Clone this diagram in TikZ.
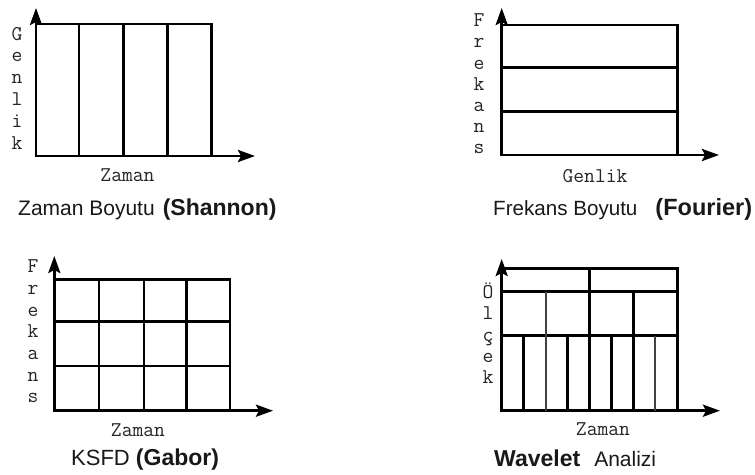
\documentclass[tikz,border=0pt]{standalone}
\usepackage{fontspec}
\setmainfont{Liberation Sans}
\usetikzlibrary{arrows.meta}
\tikzset{
  gridline/.style={line width=2.8pt, line cap=rect},
  thinline/.style={line width=1.6pt, draw=black!75},
  axisline/.style={line width=2.8pt, -{Stealth[length=17pt,width=12pt,inset=3pt]}},
  axlab/.style={font=\ttfamily\fontsize{21}{21}\selectfont, inner sep=0pt, anchor=base, text=black!85},
  capt/.style={font=\fontsize{21}{21}\selectfont, inner sep=0pt, anchor=base west, text=black!90},
}
\begin{document}
\begin{tikzpicture}[x=1pt,y=-1pt]
\useasboundingbox (0,0) rectangle (755,474);
\fill[white] (0,0) rectangle (755,474);

% ---------- Panel 1: Shannon ----------
\coordinate (o1) at (36,156);
\coordinate (y1) at (36,8);
\coordinate (x1) at (255,156);
\draw[axisline] (o1) -- (y1);
\draw[axisline] (o1) -- (x1);
\draw[gridline] (36,24) rectangle (211.7,156);
\foreach \x in {79,123.3,167.7} \draw[gridline] (\x,24) -- (\x,156);
\foreach \c [count=\i from 0] in {G,e,n,l,i,k}
  \node[axlab] (pa\i) at (17,40+21.8*\i) {\c};
\node[axlab] (za1) at (127.5,181) {Zaman};
\node[capt] (cap1) at (18,215) {Zaman Boyutu\hspace{8pt}{\bfseries\fontsize{23}{23}\selectfont(Shannon)}};

% ---------- Panel 2: Fourier ----------
\coordinate (o2) at (501.7,155);
\coordinate (y2) at (501.7,8);
\coordinate (x2) at (719,155);
\draw[axisline] (o2) -- (y2);
\draw[axisline] (o2) -- (x2);
\draw[gridline] (501.7,25) rectangle (677.3,155);
\foreach \y in {67.7,111.7} \draw[gridline] (501.7,\y) -- (677.3,\y);
\foreach \c [count=\i from 0] in {F,r,e,k,a,n,s}
  \node[axlab] (pb\i) at (479,26.7+21.2*\i) {\c};
\node[axlab] (ge2) at (595,182) {Genlik};
\node[capt, font=\fontsize{20.6}{20.6}\selectfont] (cap2) at (493,215) {Frekans Boyutu\hspace{18pt}{\bfseries\fontsize{23.5}{23.5}\selectfont(Fourier)}};

% ---------- Panel 3: Gabor ----------
\coordinate (o3) at (54.3,410.7);
\coordinate (y3) at (54.3,256);
\coordinate (x3) at (273,410.7);
\draw[axisline] (o3) -- (y3);
\draw[axisline] (o3) -- (x3);
\draw[gridline] (54.3,279.3) rectangle (230,410.7);
\foreach \x in {99,144,186.7} \draw[gridline] (\x,279.3) -- (\x,410.7);
\foreach \y in {321.7,366} \draw[gridline] (54.3,\y) -- (230,\y);
\foreach \c [count=\i from 0] in {F,r,e,k,a,n,s}
  \node[axlab] (pc\i) at (33,272.7+21.7*\i) {\c};
\node[axlab] (za3) at (138,436) {Zaman};
\node[capt, font=\fontsize{22}{22}\selectfont] (cap3) at (71,465) {KSFD {\bfseries\fontsize{23}{23}\selectfont(Gabor)}};

% ---------- Panel 4: Wavelet ----------
\coordinate (o4) at (501.7,410.7);
\coordinate (y4) at (501.7,259);
\coordinate (x4) at (720,410.7);
\draw[axisline] (o4) -- (y4);
\draw[axisline] (o4) -- (x4);
\draw[gridline] (501.7,268.3) rectangle (677.3,410.7);
\foreach \y in {291.7,335.7} \draw[gridline] (501.7,\y) -- (677.3,\y);
\draw[gridline] (589.3,268.3) -- (589.3,410.7);
\draw[gridline] (633.3,291.7) -- (633.3,410.7);
\draw[thinline] (545.7,291.7) -- (545.7,410.7);
\foreach \x in {523.3,567.3,611.7} \draw[gridline] (\x,335.7) -- (\x,410.7);
\draw[thinline] (655,335.7) -- (655,410.7);
\foreach \c [count=\i from 0] in {Ö,l,ç,e,k}
  \node[axlab] (pd\i) at (488,298.3+21.4*\i) {\c};
\node[axlab] (za4) at (603,435) {Zaman};
\node[capt] (cap4) at (494,466) {{\bfseries\fontsize{23}{23}\selectfont Wavelet}\hspace{14pt}{\fontsize{21}{21}\selectfont Analizi}};
\end{tikzpicture}
\end{document}
